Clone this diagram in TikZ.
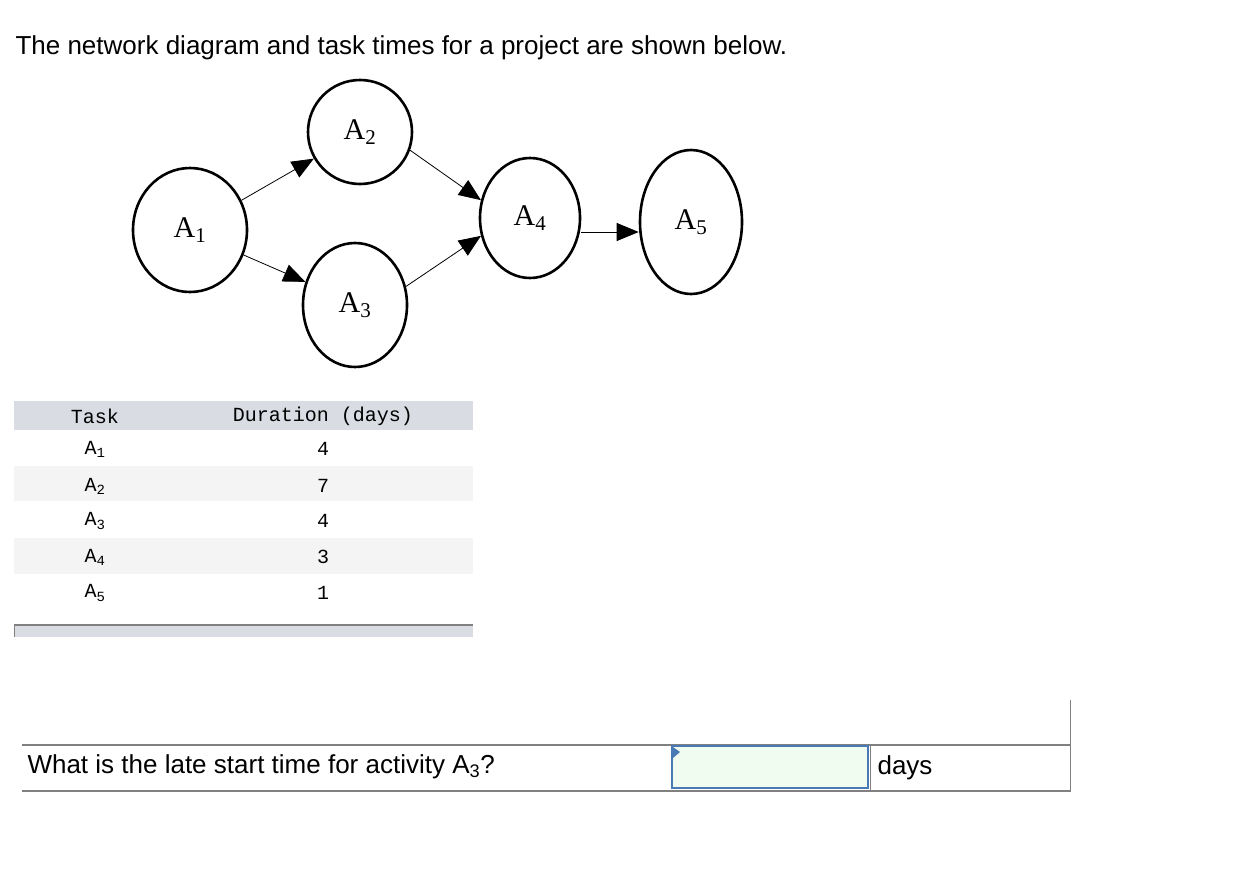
\documentclass[tikz,border=0pt]{standalone}
\usepackage{fontspec}
\setmainfont{Liberation Serif}
\newfontfamily\helv{Liberation Sans}
\newfontfamily\mono{Liberation Mono}
\usetikzlibrary{arrows.meta,shapes.geometric}
\definecolor{hdr}{RGB}{217,220,227}
\definecolor{stripe}{RGB}{244,244,244}
\definecolor{boxblue}{RGB}{74,122,181}
\definecolor{boxfill}{RGB}{240,252,240}
\begin{document}
\begin{tikzpicture}[x=1pt,y=-1pt,
  ev/.style={draw,line width=2.6pt,ellipse,inner sep=0pt,font=\fontsize{30}{30}\selectfont},
  con/.style={line width=0.8pt,-{Triangle[length=22pt,width=18pt]}},
  mt/.style={font=\mono\fontsize{20}{20}\selectfont,anchor=center}]
\useasboundingbox (0,0) rectangle (1234,878);
\node[anchor=west,font=\helv\fontsize{26}{26}\selectfont] (title) at (12,48) {The network diagram and task times for a project are shown below.};
\node[ev,minimum width=114pt,minimum height=124pt] (a1) at (190,230) {A\textsubscript{1}};
\node[ev,minimum width=104pt,minimum height=104pt] (a2) at (360,132) {A\textsubscript{2}};
\node[ev,minimum width=104pt,minimum height=124pt] (a3) at (355,305) {A\textsubscript{3}};
\node[ev,minimum width=100pt,minimum height=120pt] (a4) at (530,218) {A\textsubscript{4}};
\node[ev,minimum width=102pt,minimum height=144pt] (a5) at (691,222) {A\textsubscript{5}};
\draw[con] (a1.30) -- (a2.210);
\draw[con] (a1.-25) -- (a3.155);
\draw[con] (a2.-20) -- (a4.160);
\draw[con] (a3.20) -- (a4.200);
\draw[con] (a4.east|-0,232) -- (a5.west|-0,232);
% table
\fill[hdr] (14,401) rectangle (473,430);
\fill[stripe] (14,466) rectangle (473,501);
\fill[stripe] (14,538) rectangle (473,574);
\node[mt] (h1) at (95,416) {Task};
\node[mt] (h2) at (323,416) {Duration (days)};
\foreach \i/\d/\y in {1/4/449,2/7/486,3/4/521,4/3/557,5/1/593}{
  \node[mt] (t\i) at (95,\y) {A\textsubscript{\i}};
  \node[mt] (d\i) at (323,\y) {\d};
}
\fill[hdr] (14,625) rectangle (473,637);
\draw[line width=1.5pt,gray] (14,625) -- (473,625);
\draw[line width=1pt,gray] (14.5,625) -- (14.5,637);
% question
\draw[line width=1.5pt,gray] (22,745) -- (1071,745);
\draw[line width=1.5pt,gray] (22,791) -- (1071,791);
\draw[line width=1pt,gray] (1070,700) -- (1070,791);
\draw[line width=1pt,gray] (870,745) -- (870,791);
\node[anchor=west,font=\helv\fontsize{26}{26}\selectfont] (q) at (24,767) {What is the late start time for activity A\textsubscript{3}?};
\node[draw=boxblue,line width=2pt,fill=boxfill,minimum width=196pt,minimum height=42pt,inner sep=0pt] (box) at (770,767) {};
\fill[boxblue] (673,747) -- (680,752) -- (673,758) -- cycle;
\node[anchor=west,font=\helv\fontsize{26}{26}\selectfont] (days) at (874,768) {days};
\end{tikzpicture}
\end{document}
